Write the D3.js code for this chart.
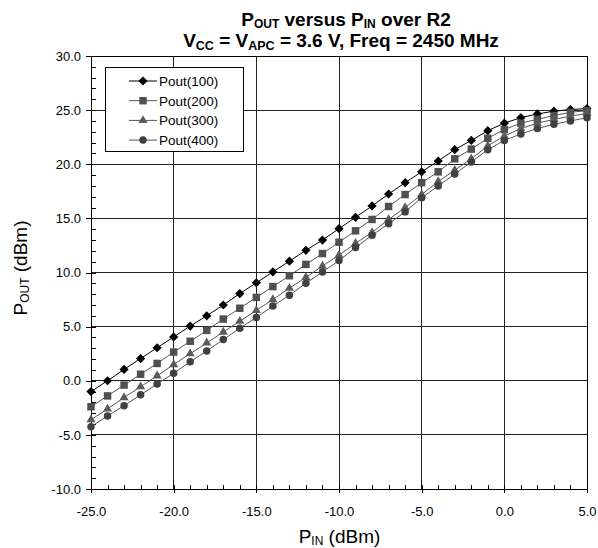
<!DOCTYPE html>
<html><head><meta charset="utf-8">
<script src="https://cdn.jsdelivr.net/npm/d3@7"></script>
<style>body{margin:0;background:#fff}svg{display:block;font-family:"Liberation Sans",Arial,sans-serif}</style>
</head><body><svg id="c" width="598" height="548"></svg>
<script>
const pin = d3.range(-25, 6, 1);
const pout100 = [-1.0,0.0,1.05,2.05,3.05,4.05,5.05,6.0,7.0,8.05,9.05,10.05,11.05,12.05,13.0,14.05,15.1,16.15,17.25,18.3,19.3,20.3,21.35,22.2,23.1,23.8,24.3,24.65,24.9,25.05,25.15];
const pout200 = [-2.4,-1.4,-0.4,0.6,1.6,2.65,3.65,4.65,5.7,6.7,7.7,8.7,9.7,10.75,11.75,12.8,13.85,14.9,16.1,17.2,18.3,19.3,20.5,21.4,22.4,23.2,23.8,24.15,24.5,24.8,24.95];
const pout300 = [-3.6,-2.6,-1.55,-0.55,0.45,1.5,2.5,3.5,4.5,5.5,6.5,7.5,8.55,9.55,10.6,11.6,12.7,13.7,14.9,16.0,17.2,18.4,19.45,20.5,21.7,22.6,23.3,23.8,24.15,24.45,24.7];
const pout400 = [-4.25,-3.25,-2.3,-1.3,-0.3,0.7,1.75,2.75,3.8,4.85,5.85,6.9,7.9,9.0,10.05,11.1,12.3,13.45,14.5,15.6,16.9,18.0,19.1,20.2,21.35,22.2,22.8,23.3,23.7,24.0,24.3];
const seriesNames = ["Pout(100)","Pout(200)","Pout(300)","Pout(400)"];
const xTicks = [-25,-20,-15,-10,-5,0,5];
const yTicks = [-10,-5,0,5,10,15,20,25,30];

const series = [
  {name: seriesNames[0], vals: pout100, shape: "diamond", color: "#000", line: "#000"},
  {name: seriesNames[1], vals: pout200, shape: "square", color: "#505050", line: "#555"},
  {name: seriesNames[2], vals: pout300, shape: "triangle", color: "#5a5a5a", line: "#555"},
  {name: seriesNames[3], vals: pout400, shape: "circle", color: "#404040", line: "#555"}
];

const FONT = "Liberation Sans, Arial, sans-serif";
const fmt = d => d.toFixed(1);
const svg = d3.select("#c");
const L = 91, R = 587, T = 56, B = 489;
const x = d3.scaleLinear().domain([-25, 5]).range([L, R]);
const y = d3.scaleLinear().domain([-10, 30]).range([B, T]);

// grid
const g = svg.append("g");
g.selectAll(".vg").data(xTicks).join("line")
  .attr("x1", d => x(d)).attr("x2", d => x(d)).attr("y1", T).attr("y2", B)
  .attr("stroke", "#222").attr("shape-rendering", "crispEdges");
g.selectAll(".hg").data(yTicks).join("line")
  .attr("x1", L).attr("x2", R).attr("y1", d => y(d)).attr("y2", d => y(d))
  .attr("stroke", "#222").attr("shape-rendering", "crispEdges");
svg.append("rect").attr("x", L).attr("y", T).attr("width", R - L).attr("height", B - T)
  .attr("fill", "none").attr("stroke", "#000").attr("shape-rendering", "crispEdges");

// axes
const xAxis = d3.axisBottom(x).tickValues(xTicks).tickSize(4).tickFormat(fmt);
const xa = svg.append("g").attr("transform", `translate(0,${B})`).call(xAxis);
const xMinor = d3.axisBottom(x).tickValues(d3.range(-25, 6, 1)).tickSizeInner(-4).tickSizeOuter(0).tickFormat("");
svg.append("g").attr("transform", `translate(0,${B})`).call(xMinor);
const yAxis = d3.axisLeft(y).tickValues(yTicks).tickSize(5).tickPadding(5).tickFormat(fmt);
const ya = svg.append("g").attr("transform", `translate(${L},0)`).call(yAxis);
const yMinor = d3.axisLeft(y).tickValues(d3.range(-10, 31, 1)).tickSizeInner(-5).tickSizeOuter(0).tickFormat("");
svg.append("g").attr("transform", `translate(${L},0)`).call(yMinor);
svg.selectAll(".domain").attr("stroke", "#000").attr("shape-rendering", "crispEdges");
svg.selectAll(".tick line").attr("stroke", "#000").attr("shape-rendering", "crispEdges");
svg.selectAll(".tick text").attr("font-family", FONT).attr("font-size", 13).attr("fill", "#000");
xa.selectAll(".tick text").attr("y", 18);

// lines and markers
function sym(shape) {
  if (shape === "diamond") return "M0,-4.6L4.6,0L0,4.6L-4.6,0Z";
  if (shape === "square") return d3.symbol(d3.symbolSquare, 56)();
  if (shape === "triangle") return d3.symbol(d3.symbolTriangle, 36)();
  return d3.symbol(d3.symbolCircle, 44)();
}
const line = d3.line().x(d => x(d[0])).y(d => y(d[1]));
series.forEach(s => {
  const pts = pin.map((p, i) => [p, s.vals[i]]);
  svg.append("path").datum(pts).attr("d", line).attr("fill", "none").attr("stroke", s.line).attr("stroke-width", 1);
});
series.forEach(s => {
  const pts = pin.map((p, i) => [p, s.vals[i]]);
  svg.append("g").selectAll("path").data(pts).join("path")
    .attr("transform", d => `translate(${x(d[0])},${y(d[1])})`)
    .attr("d", sym(s.shape)).attr("fill", s.color);
});

// legend
const lg = svg.append("g");
lg.append("rect").attr("x", 105.5).attr("y", 67.5).attr("width", 138).attr("height", 84)
  .attr("fill", "#fff").attr("stroke", "#000");
series.forEach((s, i) => {
  const yy = 81 + i * 19.7;
  lg.append("line").attr("x1", 129).attr("x2", 157).attr("y1", yy).attr("y2", yy).attr("stroke", s.line);
  lg.append("path").attr("transform", `translate(143,${yy})`).attr("d", sym(s.shape)).attr("fill", s.color);
  lg.append("text").attr("x", 159).attr("y", yy + 5).attr("font-size", 13.5).text(s.name);
});

// titles
function subText(sel, parts, subSize, shift) {
  parts.forEach((p, i) => {
    const sub = i % 2 === 1;
    const ts = sel.append("tspan").text(p);
    if (sub) ts.attr("font-size", subSize).attr("dy", shift);
    else if (i > 0) ts.attr("dy", -shift);
  });
}
const t1 = svg.append("text").attr("x", 346).attr("y", 26).attr("text-anchor", "middle")
  .attr("font-size", 19).attr("font-weight", "bold");
subText(t1, ["P", "OUT", " versus P", "IN", " over R2"], 12, 2);
const t2 = svg.append("text").attr("x", 341).attr("y", 47).attr("text-anchor", "middle")
  .attr("font-size", 19).attr("font-weight", "bold");
subText(t2, ["V", "CC", " = V", "APC", " = 3.6 V, Freq = 2450 MHz"], 12.5, 2.5);

const xl = svg.append("text").attr("x", 339.5).attr("y", 543).attr("text-anchor", "middle").attr("font-size", 19);
subText(xl, ["P", "IN", " (dBm)"], 12, 2);
const yl = svg.append("text").attr("transform", "translate(27,268) rotate(-90)").attr("text-anchor", "middle").attr("font-size", 19);
subText(yl, ["P", "OUT", " (dBm)"], 12, 2);
</script></body></html>
